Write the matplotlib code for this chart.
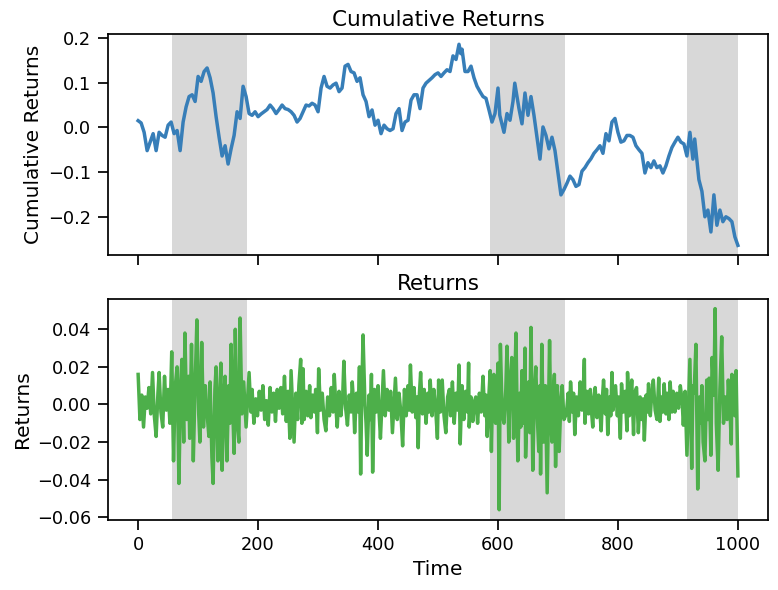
import matplotlib
matplotlib.use("Agg")
import matplotlib.pyplot as plt

# cumulative returns
cum_time = [0, 5, 10, 15, 20, 25, 30, 35, 40, 45, 50, 55, 60, 65, 70, 75, 80, 85, 90, 95,
            100, 105, 110, 115, 120, 125, 130, 135, 140, 145, 150, 155, 160, 165, 170, 175, 180, 185, 190, 195,
            200, 205, 210, 215, 220, 225, 230, 235, 240, 245, 250, 255, 260, 265, 270, 275, 280, 285, 290, 295,
            300, 305, 310, 315, 320, 325, 330, 335, 340, 345, 350, 355, 360, 365, 370, 375, 380, 385, 390, 395,
            400, 405, 410, 415, 420, 425, 430, 435, 440, 445, 450, 455, 460, 465, 470, 475, 480, 485, 490, 495,
            500, 505, 510, 515, 520, 525, 530, 535, 538, 540, 545, 550, 555, 560, 565, 570, 575, 580, 585, 590,
            595, 600, 603, 610, 615, 620, 625, 628, 635, 640, 645, 650, 655, 660, 665, 670, 675, 680, 685, 690,
            695, 700, 705, 710, 715, 720, 725, 730, 735, 740, 745, 750, 755, 760, 765, 770, 775, 780, 785, 790,
            795, 800, 805, 810, 815, 820, 825, 830, 835, 840, 845, 850, 855, 860, 865, 870, 875, 880, 885, 890,
            895, 900, 905, 910, 915, 920, 925, 928, 935, 940, 945, 950, 955, 960, 965, 970, 975, 980, 985, 990,
            995, 1000]
cum_values = [0.015, 0.010, -0.011, -0.052, -0.033, -0.014, -0.052, -0.011, -0.018, -0.022,
              0.005, 0.012, -0.014, -0.007, -0.052, 0.012, 0.046, 0.069, 0.073, 0.058,
              0.114, 0.103, 0.125, 0.133, 0.111, 0.077, 0.024, -0.022, -0.064, -0.041,
              -0.082, -0.048, -0.018, 0.035, 0.020, 0.092, 0.069, 0.031, 0.027, 0.035,
              0.024, 0.030, 0.035, 0.040, 0.050, 0.042, 0.031, 0.040, 0.050, 0.042,
              0.040, 0.035, 0.027, 0.012, 0.020, 0.035, 0.050, 0.048, 0.054, 0.050,
              0.035, 0.088, 0.114, 0.092, 0.088, 0.095, 0.099, 0.080, 0.088, 0.137,
              0.141, 0.125, 0.122, 0.103, 0.111, 0.073, 0.058, 0.024, 0.039, 0.005,
              0.016, -0.014, 0.005, -0.003, -0.007, -0.003, 0.031, 0.042, -0.007, 0.012,
              0.016, 0.061, 0.073, 0.073, 0.042, 0.088, 0.099, 0.105, 0.111, 0.118,
              0.122, 0.114, 0.122, 0.129, 0.125, 0.160, 0.152, 0.186, 0.165, 0.175,
              0.125, 0.125, 0.137, 0.111, 0.092, 0.080, 0.069, 0.065, 0.039, 0.012,
              0.031, 0.088, 0.027, -0.011, 0.031, 0.016, 0.058, 0.099, 0.042, 0.008,
              0.077, 0.027, 0.069, 0.027, -0.022, -0.071, 0.001, -0.018, -0.048, -0.022,
              -0.052, -0.102, -0.151, -0.139, -0.125, -0.109, -0.117, -0.132, -0.128, -0.098,
              -0.090, -0.079, -0.070, -0.058, -0.050, -0.041, -0.058, -0.014, -0.030, 0.012,
              0.020, -0.011, -0.033, -0.030, -0.018, -0.018, -0.022, -0.041, -0.050, -0.058,
              -0.102, -0.079, -0.090, -0.075, -0.090, -0.086, -0.102, -0.086, -0.064, -0.045,
              -0.033, -0.022, -0.033, -0.037, -0.064, -0.011, -0.071, -0.026, -0.117, -0.143,
              -0.200, -0.185, -0.234, -0.151, -0.219, -0.185, -0.211, -0.200, -0.204, -0.211,
              -0.245, -0.264]

# daily returns
ret_time = [0, 3, 6, 9, 12, 15, 18, 21, 24, 27, 30, 33, 35, 38, 41, 44, 47, 50, 53, 56, 59,
            62, 65, 68, 71, 73, 76, 78, 81, 84, 86, 89, 92, 95, 98, 101, 103, 106, 109, 112, 115,
            118, 120, 123, 125, 128, 130, 133, 136, 138, 140, 143, 145, 148, 151, 153, 155, 158, 160, 162, 165,
            168, 170, 173, 176, 180,
            183, 185, 188, 190, 193, 196, 199, 202, 205, 208, 211, 214, 217, 220, 223, 226, 229, 232, 235, 238,
            241, 244, 247, 250, 253, 255, 258, 260, 263, 266, 268, 271, 273, 275, 277, 280, 283, 286, 288, 291,
            294, 296, 299, 301, 304, 307, 310, 313, 316, 319, 322, 325, 327, 330, 332, 335, 338, 341, 343, 346,
            349, 352, 355, 357, 359, 361, 364, 367, 369, 371, 373, 375, 378, 380, 382, 385, 387, 389, 391, 394,
            397, 400, 402, 404, 407, 409, 412, 415, 418, 421, 424, 427, 429, 432, 435, 438, 441, 444, 447, 450,
            452, 454, 457, 460, 463, 465, 467, 469, 471, 474, 477, 480, 483, 485, 487, 490, 493, 496, 499, 501,
            504, 507, 510, 513, 516, 519, 521, 524, 527, 530, 533, 535, 537, 540, 543, 546, 549, 551, 552, 555,
            558, 561, 563, 566, 569, 572, 575, 578, 580, 582, 585, 587,
            589, 591, 593, 596, 598, 600, 602, 604, 607, 610, 613, 615, 618, 620, 623, 626, 628, 630, 633, 636,
            638, 640, 643, 645, 646, 649, 651, 653, 655, 658, 661, 663, 666, 668, 670, 671, 673, 676, 679, 682,
            686, 688, 690, 692, 694, 696, 699, 702, 705, 707, 710,
            714, 717, 719, 721, 724, 726, 728, 731, 734, 737, 740, 742, 744, 745, 748, 751, 754, 756, 758, 760,
            762, 765, 768, 770, 772, 774, 776, 779, 781, 783, 786, 788, 790, 792, 794, 796, 799, 801, 804, 806,
            809, 812, 815, 816, 819, 821, 823, 826, 828, 831, 834, 837, 840, 842, 844, 847, 849, 851, 854, 856,
            859, 862, 865, 868, 870, 873, 875, 877, 880, 882, 885, 887, 890, 892, 895, 898, 901, 904, 907, 909,
            912,
            915, 918, 920, 923, 925, 927, 930, 933, 936, 938, 940, 942, 945, 948, 950, 952, 955, 957, 960, 962,
            964, 967, 970, 973, 976, 979, 982, 984, 987, 989, 990, 993, 995, 997, 1000]
ret_values = [0.016, -0.008, 0.005, -0.012, 0.004, -0.002, 0.009, -0.005, 0.017, -0.006, -0.017, 0.006, 0.017,
              -0.004, -0.012, 0.015, -0.003, 0.008, -0.010, 0.028, -0.030,
              0.010, 0.020, -0.042, 0.012, 0.024, -0.020, 0.038, -0.008, 0.015, -0.018, 0.032, -0.030, 0.010,
              0.045, -0.005, -0.020, 0.033, -0.012, 0.010, -0.005,
              -0.017, 0.012, -0.028, -0.042, 0.008, 0.020, -0.030, 0.005, 0.022, -0.035, 0.004, 0.015, -0.030,
              0.010, -0.010, 0.032, -0.005, -0.026, 0.040, -0.010,
              -0.020, 0.046, -0.005, 0.012, -0.012,
              0.005, 0.017, -0.004, 0.008, -0.010, 0.003, -0.006, 0.007, -0.003, 0.010, -0.008, 0.002, -0.011,
              0.009, -0.004, 0.006, -0.009, 0.008, -0.002, 0.009,
              -0.005, 0.015, -0.009, 0.007, -0.018, 0.018, -0.004, -0.020, 0.006, -0.008, 0.010, 0.024, -0.010,
              0.019, -0.008, 0.007, -0.006, 0.010, -0.007, 0.005,
              -0.004, 0.008, -0.015, 0.019, -0.003, 0.006, -0.008, -0.014, 0.004, -0.006, 0.009, -0.004, 0.016,
              -0.003, -0.012, 0.007, -0.006, 0.004, 0.023, -0.002,
              -0.011, 0.005, -0.004, 0.012, 0.002, -0.015, 0.006, -0.004, 0.020, -0.037, 0.008, 0.037, 0.002,
              -0.010, -0.027, 0.005, -0.008, 0.016, -0.036, 0.008,
              -0.004, 0.010, -0.006, -0.018, 0.004, 0.018, -0.006, 0.008, -0.003, 0.007, -0.015, 0.003, 0.014,
              -0.008, 0.006, -0.004, -0.022, 0.008, -0.006, 0.010,
              -0.003, 0.021, -0.004, 0.009, -0.007, 0.004, -0.023, 0.006, 0.017, -0.005, 0.008, -0.010, 0.006,
              -0.004, 0.013, -0.006, 0.008, -0.002, -0.018, 0.013,
              -0.004, 0.013, -0.006, -0.015, 0.004, 0.008, -0.006, 0.012, -0.010, 0.006, -0.003, 0.021, -0.021,
              0.010, -0.008, 0.007, -0.004, 0.022, -0.012, 0.004,
              -0.009, 0.002, 0.004, -0.010, 0.006, -0.004, 0.015, -0.006, 0.005, -0.017, 0.006, 0.018,
              -0.025, 0.008, 0.016, -0.010, 0.005, 0.022, -0.056, 0.032, -0.005, -0.010, 0.008, 0.031, -0.020,
              0.010, 0.025, -0.018, 0.012, 0.038, -0.030, 0.006,
              -0.012, 0.018, -0.010, 0.030, -0.028, 0.005, 0.012, -0.015, 0.041, -0.035, 0.008, 0.020, -0.010,
              -0.025, 0.010, -0.037, 0.032, -0.020, 0.010, -0.047,
              0.034, -0.008, -0.020, 0.004, 0.016, -0.033, 0.010, -0.025, 0.003, 0.010, -0.008,
              -0.005, 0.006, -0.009, 0.012, -0.004, 0.006, -0.016, 0.004, -0.006, 0.012, -0.003, 0.006, 0.024,
              -0.010, 0.007, -0.005, 0.008, -0.004, -0.012, 0.003,
              0.009, -0.007, 0.005, -0.004, -0.014, 0.003, 0.013, -0.005, 0.008, -0.016, 0.004, -0.006, 0.017,
              -0.003, 0.008, 0.010, -0.006, 0.004, -0.018, 0.011,
              -0.004, 0.007, -0.014, 0.017, -0.006, 0.004, 0.013, -0.016, 0.006, 0.009, -0.015, 0.004, -0.008,
              0.003, -0.019, 0.005, -0.004, 0.011, -0.006, 0.004,
              0.013, -0.003, -0.008, 0.014, -0.009, 0.004, -0.004, 0.011, -0.005, 0.006, -0.008, 0.012, -0.004,
              0.007, -0.004, 0.006, -0.002, 0.010, 0.002, -0.011,
              0.007,
              -0.027, 0.004, 0.024, -0.034, 0.010, 0.006, 0.032, -0.045, 0.004, -0.010, 0.010, -0.020, -0.030,
              0.013, -0.008, 0.014, -0.027, 0.025, 0.005, 0.051,
              -0.010, -0.035, 0.008, 0.036, -0.010, 0.004, -0.008, 0.013, -0.005, -0.021, 0.016, 0.002, -0.006,
              0.018, -0.038]

# high volatility regimes (start, end)
regimes = [(57, 181), (587, 712), (915, 1000)]

plt.rcParams.update({
    "font.family": "DejaVu Sans",
    "axes.linewidth": 1.25,
    "xtick.major.width": 1.25,
    "ytick.major.width": 1.25,
    "xtick.major.size": 7,
    "ytick.major.size": 7,
    "xtick.major.pad": 5,
    "ytick.major.pad": 5,
    "xtick.labelsize": 12.8,
    "ytick.labelsize": 12.8,
})

fig, (ax1, ax2) = plt.subplots(2, 1, figsize=(7.78, 5.9), dpi=100, sharex=True)
fig.subplots_adjust(left=0.139, right=0.987, top=0.942, bottom=0.119, hspace=0.195)

ax1.plot(cum_time, cum_values, color="#377eb8", linewidth=2.5, zorder=3)
ax2.plot(ret_time, ret_values, color="#4daf4a", linewidth=2.5, zorder=3)

for start, end in regimes:
    ax1.axvspan(start, end, color="gray", alpha=0.3, linewidth=0, zorder=1)
    ax2.axvspan(start, end, color="gray", alpha=0.3, linewidth=0, zorder=1)

ax1.set_title("Cumulative Returns", fontsize=15.5)
ax1.set_ylabel("Cumulative Returns", fontsize=14.5)
ax2.set_title("Returns", fontsize=15.5)
ax2.set_ylabel("Returns", fontsize=14.5)
ax2.set_xlabel("Time", fontsize=14.5)
ax2.set_xticks([0, 200, 400, 600, 800, 1000])
ax1.set_yticks([-0.2, -0.1, 0.0, 0.1, 0.2])
ax2.set_yticks([-0.06, -0.04, -0.02, 0.0, 0.02, 0.04])

fig.savefig("out.png", dpi=100)
